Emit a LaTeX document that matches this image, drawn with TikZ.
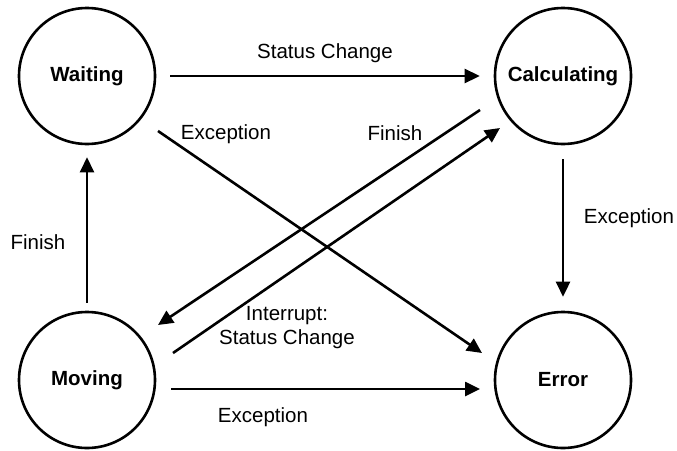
\documentclass[tikz,border=0pt]{standalone}
\usepackage{fontspec}
\setmainfont{Liberation Sans}
\usetikzlibrary{arrows.meta,calc}
\begin{document}
\begin{tikzpicture}[x=1pt,y=-1pt,
  state/.style={draw,circle,line width=2.6pt,minimum size=136pt,inner sep=0pt,font=\fontsize{20.5}{24}\selectfont\bfseries},
  arr/.style={line width=2.6pt,-{Triangle[length=15pt,width=14pt]}},
  lbl/.style={font=\fontsize{20.5}{24}\selectfont,inner sep=0pt,align=center}]
\useasboundingbox (0,0) rectangle (677,450);
\node[state] (W) at (87,76) {Waiting};
\node[state] (C) at (563,76) {Calculating};
\node[state] (M) at (87,380) {Moving};
\node[state] (E) at (563,380) {Error};
% connectors
\draw[arr,shorten <=14pt,shorten >=14pt] (W.east) -- (C.west);
\draw[arr] ($(W)+(71,55)$) -- ($(E)+(-81,-27)$);
\draw[arr] ($(C)+(-83,34)$) -- ($(M)+(71,-55)$);
\draw[arr] ($(M)+(86,-27)$) -- ($(C)+(-63,52)$);
\draw[arr,shorten <=14pt,shorten >=14pt] (C.south) -- (E.north);
\draw[arr,shorten <=8pt,shorten >=12pt] (M.north) -- (W.south);
\draw[arr] ($(M)+(84,9)$) -- ($(E)+(-83,9)$);
% labels
\node[lbl] (l1) at (325,53) {Status Change};
\node[lbl] (l2) at (226,134) {Exception};
\node[lbl] (l3) at (395,133) {Finish};
\node[lbl] (l4) at (287,328) {Interrupt:\\Status Change};
\node[lbl] (l5) at (629,218) {Exception};
\node[lbl] (l6) at (38,242) {Finish};
\node[lbl] (l7) at (263,417) {Exception};
\end{tikzpicture}
\end{document}
